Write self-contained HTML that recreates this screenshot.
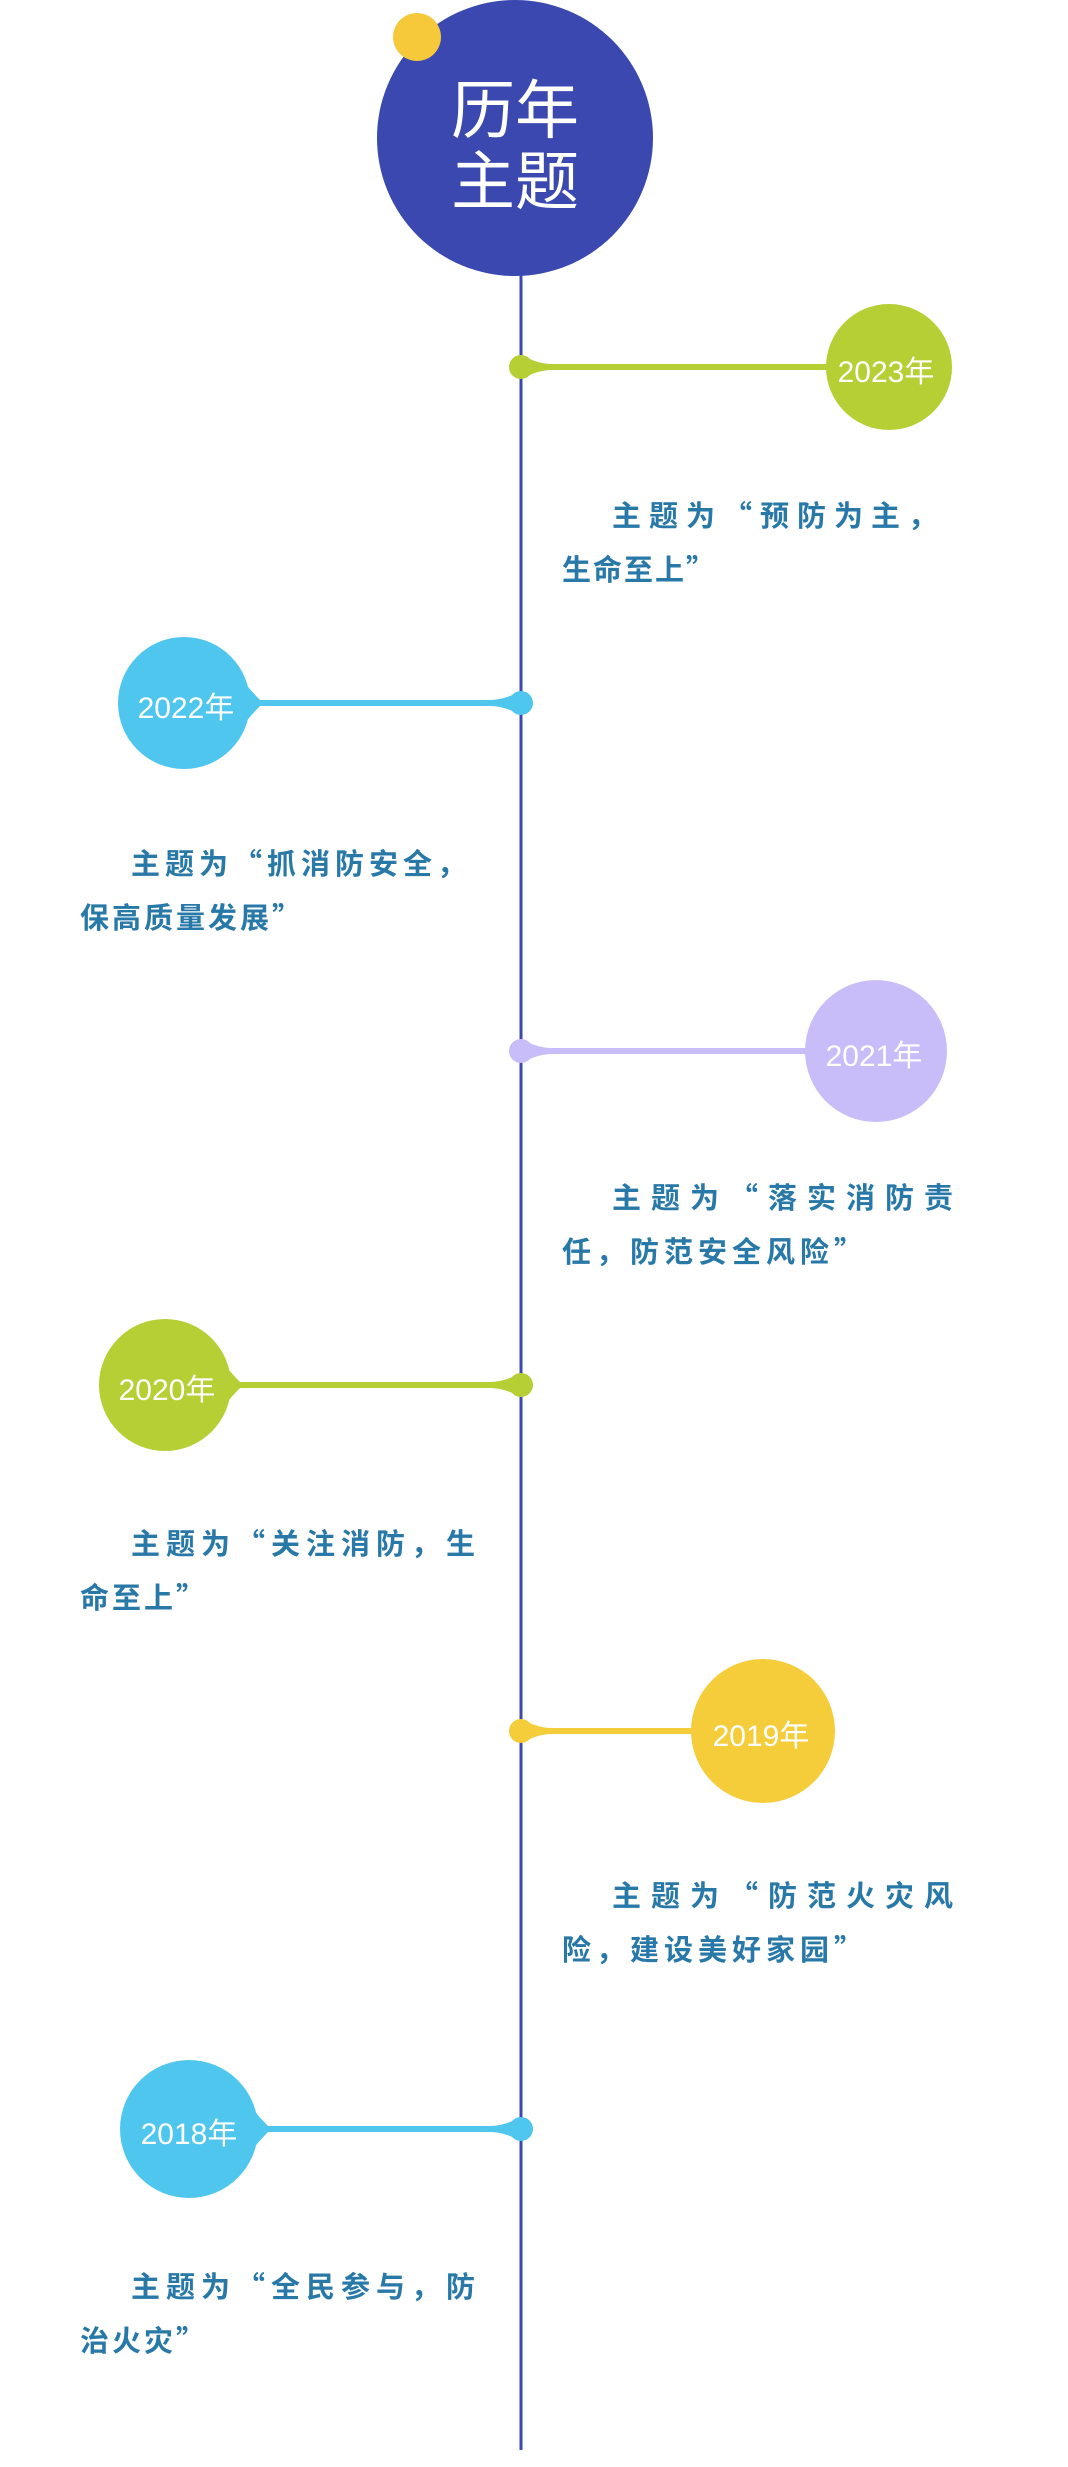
<!DOCTYPE html>
<html><head><meta charset="utf-8">
<style>
body{margin:0;background:#fff;}
#w{position:relative;width:1068px;height:2467px;overflow:hidden;background:#fff;}
svg{position:absolute;left:0;top:0;}
.t{position:absolute;font-family:"Noto Sans CJK SC",sans-serif;font-weight:bold;color:#2878a8;font-size:29px;white-space:nowrap;line-height:54px;}
.t div{height:54px;}
.y{position:absolute;font-family:"Liberation Sans","Noto Sans CJK SC",sans-serif;color:#fff;font-size:30px;white-space:nowrap;transform:translate(-50%,-50%);}
.h{position:absolute;font-family:"Noto Sans CJK SC",sans-serif;color:#fff;font-size:64px;line-height:71px;text-align:center;width:300px;left:365px;top:71px;}
</style></head><body><div id="w">
<svg width="1068" height="2467" viewBox="0 0 1068 2467">
<line x1="521" y1="260" x2="521" y2="2450" stroke="#3a48b0" stroke-width="3"/>
<circle cx="515" cy="138" r="138" fill="#3a48b0"/>
<circle cx="417" cy="37" r="24" fill="#f5c93a"/>
<!-- 2023 -->
<g fill="#b5cf34">
<circle cx="521" cy="367" r="12"/><path d="M521 355 Q538 364 552 364 L835 364 Q842 356 848 346 L848 388 Q842 378 835 370 L552 370 Q538 370 521 379Z"/>
<circle cx="889" cy="367" r="63"/></g>
<!-- 2022 -->
<g fill="#4fc6ee">
<circle cx="521" cy="703" r="12"/><path d="M521 691 Q504 700 490 700 L260 700 Q252 692 244 682 L244 724 Q252 714 260 706 L490 706 Q504 706 521 715Z"/>
<circle cx="184" cy="703" r="66"/></g>
<!-- 2021 -->
<g fill="#c8bdf8">
<circle cx="521" cy="1051" r="12"/><path d="M521 1039 Q538 1048 552 1048 L815 1048 Q822 1040 828 1028 L828 1074 Q822 1062 815 1054 L552 1054 Q538 1054 521 1063Z"/>
<circle cx="876" cy="1051" r="71"/></g>
<!-- 2020 -->
<g fill="#b5cf34">
<circle cx="521" cy="1385" r="12"/><path d="M521 1373 Q504 1382 490 1382 L240 1382 Q232 1374 224 1364 L224 1406 Q232 1396 240 1388 L490 1388 Q504 1388 521 1397Z"/>
<circle cx="165" cy="1385" r="66"/></g>
<!-- 2019 -->
<g fill="#f5cd3a">
<circle cx="521" cy="1731" r="12"/><path d="M521 1719 Q538 1728 552 1728 L700 1728 Q707 1720 713 1708 L713 1754 Q707 1742 700 1734 L552 1734 Q538 1734 521 1743Z"/>
<circle cx="763" cy="1731" r="72"/></g>
<!-- 2018 -->
<g fill="#4fc6ee">
<circle cx="521" cy="2129" r="12"/><path d="M521 2117 Q504 2126 490 2126 L268 2126 Q260 2118 252 2108 L252 2150 Q260 2140 268 2132 L490 2132 Q504 2132 521 2141Z"/>
<circle cx="189" cy="2129" r="69"/></g>
</svg>
<div class="h">历年<br>主题</div>
<div class="y" style="left:886px;top:369px">2023年</div>
<div class="y" style="left:186px;top:705px">2022年</div>
<div class="y" style="left:874px;top:1053px">2021年</div>
<div class="y" style="left:167px;top:1387px">2020年</div>
<div class="y" style="left:761px;top:1733px">2019年</div>
<div class="y" style="left:189px;top:2131px">2018年</div>

<div class="t" style="left:562px;top:487px"><div style="padding-left:50px;letter-spacing:8px">主题为“预防为主，</div><div style="letter-spacing:2px">生命至上”</div></div>
<div class="t" style="left:80px;top:835px"><div style="padding-left:51px;letter-spacing:5px">主题为“抓消防安全，</div><div style="letter-spacing:3px">保高质量发展”</div></div>
<div class="t" style="left:562px;top:1169px"><div style="padding-left:50px;letter-spacing:10px">主题为“落实消防责</div><div style="letter-spacing:5px">任，防范安全风险”</div></div>
<div class="t" style="left:80px;top:1515px"><div style="padding-left:51px;letter-spacing:6px">主题为“关注消防，生</div><div style="letter-spacing:3px">命至上”</div></div>
<div class="t" style="left:562px;top:1867px"><div style="padding-left:50px;letter-spacing:10px">主题为“防范火灾风</div><div style="letter-spacing:5px">险，建设美好家园”</div></div>
<div class="t" style="left:80px;top:2258px"><div style="padding-left:51px;letter-spacing:6px">主题为“全民参与，防</div><div style="letter-spacing:3px">治火灾”</div></div>
</div></body></html>
